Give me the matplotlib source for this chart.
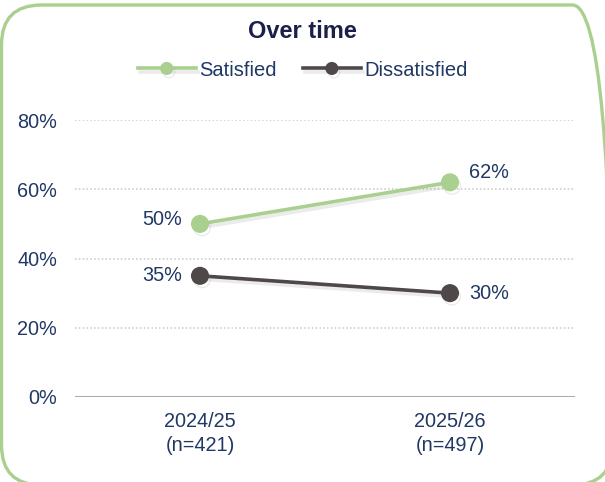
"""Satisfaction over time: line chart with two survey waves."""
import matplotlib
matplotlib.use("Agg")
import matplotlib.pyplot as plt
import matplotlib.patheffects as pe
from matplotlib.patches import FancyBboxPatch

# Data
periods = ["2024/25\n(n=421)", "2025/26\n(n=497)"]
satisfied = [50, 62]
dissatisfied = [35, 30]
y_ticks = [0, 20, 40, 60, 80]

GREEN = "#A9D08E"
DARK = "#4E4849"
NAVY = "#1F3864"
TITLE_NAVY = "#1B2049"

plt.rcParams["font.family"] = ["Liberation Sans", "DejaVu Sans"]

W, H = 605, 482
fig = plt.figure(figsize=(W / 100, H / 100), dpi=100)

# Background axes in pixel units, used only for the rounded frame
bg = fig.add_axes([0, 0, 1, 1])
bg.set_xlim(0, W)
bg.set_ylim(0, H)
bg.axis("off")
bg.add_patch(FancyBboxPatch((1.5, -3), 611, 480,
                            boxstyle="round,pad=0,rounding_size=40",
                            facecolor="none", edgecolor=GREEN, linewidth=2.4))

ax = fig.add_axes([75 / W, 85 / H, 500 / W, 277 / H])
ax.patch.set_alpha(0)

x = list(range(len(periods)))
shadow = [pe.SimpleLineShadow(offset=(1.5, -2.5), shadow_color="#7f7f7f", alpha=0.15),
          pe.Normal()]

ax.plot(x, satisfied, color=GREEN, lw=2.6, marker="o", markersize=12,
        label="Satisfied", path_effects=shadow, zorder=3)
ax.plot(x, dissatisfied, color=DARK, lw=2.6, marker="o", markersize=12,
        label="Dissatisfied", path_effects=shadow, zorder=3)

# Value labels: left of first point, right of last point
label_kw = dict(textcoords="offset points", fontsize=14.3, color=NAVY, va="center")
ax.annotate(f"{satisfied[0]}%", (x[0], satisfied[0]), xytext=(-13, 3), ha="right", **label_kw)
ax.annotate(f"{dissatisfied[0]}%", (x[0], dissatisfied[0]), xytext=(-13, 0), ha="right", **label_kw)
ax.annotate(f"{satisfied[1]}%", (x[1], satisfied[1]), xytext=(14, 7), ha="left", **label_kw)
ax.annotate(f"{dissatisfied[1]}%", (x[1], dissatisfied[1]), xytext=(14, 0), ha="left", **label_kw)

ax.set_xlim(-0.5, 1.5)
ax.set_ylim(0, 80)
ax.set_yticks(y_ticks)
ax.set_yticklabels([f"{t}%" for t in y_ticks])
ax.set_xticks(x)
ax.set_xticklabels(periods, linespacing=1.3)
ax.tick_params(axis="both", length=0, labelsize=14.3, labelcolor=NAVY)
ax.tick_params(axis="y", pad=13)
ax.tick_params(axis="x", pad=11)

for t in y_ticks[1:]:
    ax.axhline(t, color="#C8C8C8", lw=1.1, ls=(0, (1, 1.5)), zorder=1)
ax.axhline(0, color="#B3ABAB", lw=1.5, zorder=2)

for side in ["top", "right", "left", "bottom"]:
    ax.spines[side].set_visible(False)

fig.text(0.5, 1 - 31 / H, "Over time", ha="center", va="center",
         fontsize=17, fontweight="bold", color=TITLE_NAVY)
fig.legend(loc="center", bbox_to_anchor=(0.5, 1 - 70 / H), ncol=2, frameon=False,
           fontsize=14.5, labelcolor=NAVY, handlelength=2.9, handletextpad=0.15,
           columnspacing=1.3, markerscale=0.7)

fig.savefig("out.png", dpi=100)
